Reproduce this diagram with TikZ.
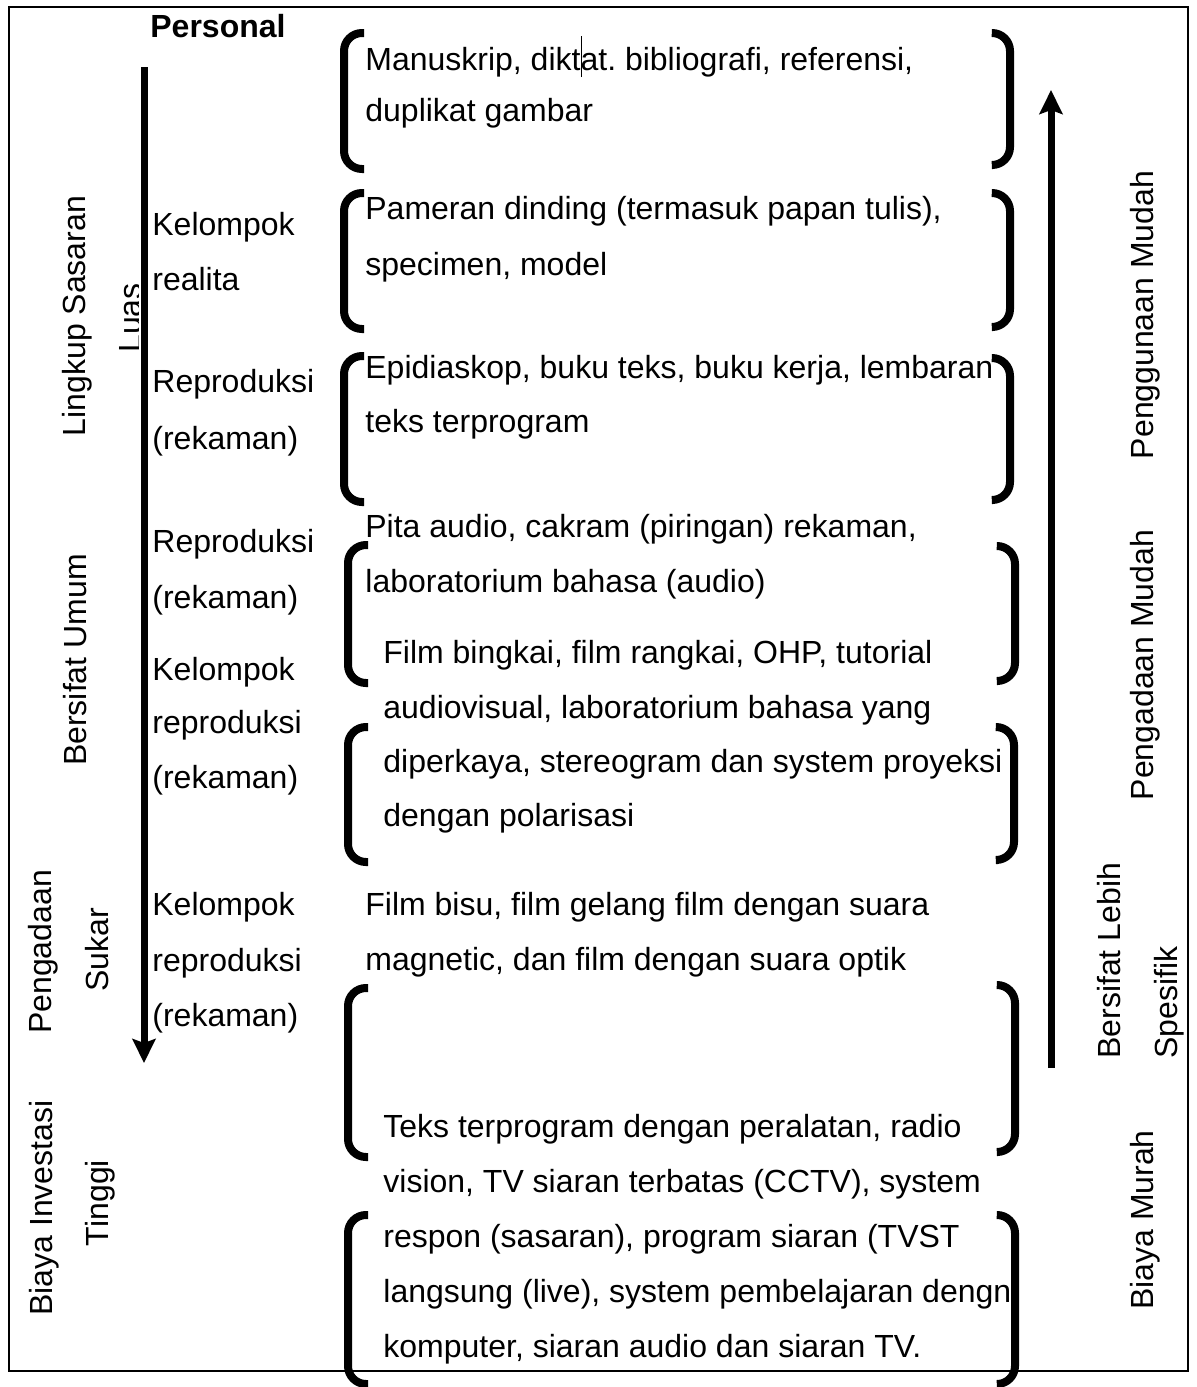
\documentclass[tikz,border=0pt]{standalone}
\usepackage{fontspec}
\setmainfont{Liberation Sans}
\usetikzlibrary{arrows.meta}
\frenchspacing
\begin{document}
\begin{tikzpicture}[x=0.5pt,y=-0.5pt,
  txt/.style={anchor=base west, inner sep=0pt, font=\fontsize{16}{19}\selectfont\frenchspacing},
  rot/.style={rotate=90, anchor=base, inner sep=0pt, font=\fontsize{16}{19}\selectfont},
  rotw/.style={rotate=90, anchor=base west, inner sep=0pt, font=\fontsize{16}{19}\selectfont},
  brk/.style={line width=4pt, rounded corners=9pt},
  bigarrow/.style={line width=3.5pt, -{Stealth[length=12pt,width=11.5pt,inset=2pt]}},
  frame/.style={line width=1pt}]
\useasboundingbox (0,0) rectangle (1196,1387);
\draw[frame] (8.5,6.5) rectangle (1187.5,1370.5);

% title
\node[txt, font=\fontsize{16}{19}\selectfont\bfseries] (personal) at (150,37) {Personal};

% left rotated labels
\node[rot] (lingkup) at (85,316) {Lingkup Sasaran};
\begin{scope}
  \clip (100,250) rectangle (138,400);
  \node[rot] (luas) at (141,318) {Luas};
\end{scope}
\node[rot] (umum) at (86,660) {Bersifat Umum};
\node[rot] (pengadaan) at (51,952) {Pengadaan};
\node[rot] (sukar) at (108,950) {Sukar};
\node[rot] (biaya) at (53,1208) {Biaya Investasi};
\node[rot] (tinggi) at (108,1203) {Tinggi};

% left arrow
\coordinate (lTop) at (144,67);
\coordinate (lBot) at (144,1063);
\draw[bigarrow] (lTop) -- (lBot);

% middle labels
\node[txt] (m1a) at (152,235) {Kelompok};
\node[txt] (m1b) at (152,290) {realita};
\node[txt] (m2a) at (152,392) {Reproduksi};
\node[txt] (m2b) at (152,449) {(rekaman)};
\node[txt] (m3a) at (152,552) {Reproduksi};
\node[txt] (m3b) at (152,608) {(rekaman)};
\node[txt] (m4a) at (152,680) {Kelompok};
\node[txt] (m4b) at (152,733) {reproduksi};
\node[txt] (m4c) at (152,788) {(rekaman)};
\node[txt] (m5a) at (152,915) {Kelompok};
\node[txt] (m5b) at (152,971) {reproduksi};
\node[txt] (m5c) at (152,1026) {(rekaman)};

% right column texts
\node[txt] (t1a) at (365,70) {Manuskrip, dikt\rlap{\hspace{0.2pt}\rule[-3.5pt]{0.7pt}{20.5pt}}at. bibliografi, referensi,};
\node[txt] (t1b) at (365,121) {duplikat gambar};
\node[txt] (t2a) at (365,219) {Pameran dinding (termasuk papan tulis),};
\node[txt] (t2b) at (365,275) {specimen, model};
\node[txt] (t3a) at (365,378) {Epidiaskop, buku teks, buku kerja, lembaran};
\node[txt] (t3b) at (365,432) {teks terprogram};
\node[txt] (t4a) at (365,537) {Pita audio, cakram (piringan) rekaman,};
\node[txt] (t4b) at (365,592) {laboratorium bahasa (audio)};
\node[txt] (t5a) at (383,663) {Film bingkai, film rangkai, OHP, tutorial};
\node[txt] (t5b) at (383,718) {audiovisual, laboratorium bahasa yang};
\node[txt] (t5c) at (383,772) {diperkaya, stereogram dan system proyeksi};
\node[txt] (t5d) at (383,826) {dengan polarisasi};
\node[txt] (t6a) at (365,915) {Film bisu, film gelang film dengan suara};
\node[txt] (t6b) at (365,970) {magnetic, dan film dengan suara optik};
\node[txt] (t7a) at (383,1137) {Teks terprogram dengan peralatan, radio};
\node[txt] (t7b) at (383,1192) {vision, TV siaran terbatas (CCTV), system};
\node[txt] (t7c) at (383,1247) {respon (sasaran), program siaran (TVST};
\node[txt] (t7d) at (383,1302) {langsung (live), system pembelajaran dengn};
\node[txt] (t7e) at (383,1357) {komputer, siaran audio dan siaran TV.};

% brackets
\draw[brk] (364,33) -- (344,33) -- (344,169) -- (364,169);
\draw[brk] (993,33) -- (1010,33) -- (1010,165) -- (993,165);
\draw[brk] (364,193) -- (344,193) -- (344,329) -- (364,329);
\draw[brk] (993,193) -- (1010,193) -- (1010,327) -- (993,327);
\draw[brk] (364,356) -- (344,356) -- (344,502) -- (364,502);
\draw[brk] (993,358) -- (1010,358) -- (1010,500) -- (993,500);
\draw[brk] (368,545) -- (348,545) -- (348,683) -- (368,683);
\draw[brk] (998,546) -- (1015,546) -- (1015,681) -- (998,681);
\draw[brk] (368,727) -- (348,727) -- (348,862) -- (368,862);
\draw[brk] (998,727) -- (1014,727) -- (1014,860) -- (998,860);
\draw[brk] (368,988) -- (348,988) -- (348,1157) -- (368,1157);
\draw[brk] (998,985) -- (1015,985) -- (1015,1152) -- (998,1152);
\draw[brk] (368,1215) -- (348,1215) -- (348,1384) -- (368,1384);
\draw[brk] (998,1215) -- (1015,1215) -- (1015,1384) -- (998,1384);

% right arrow
\coordinate (rBot) at (1051,1068);
\coordinate (rTop) at (1051,90);
\draw[bigarrow] (rBot) -- (rTop);

% right rotated labels
\node[rot] (penggunaan) at (1153,315) {Penggunaan Mudah};
\node[rot] (pengadaanM) at (1153,665) {Pengadaan Mudah};
\node[rotw] (lebih) at (1120,1059) {Bersifat Lebih};
\node[rotw] (spesifik) at (1177,1059) {Spesifik};
\node[rot] (murah) at (1153,1220) {Biaya Murah};
\end{tikzpicture}
\end{document}
